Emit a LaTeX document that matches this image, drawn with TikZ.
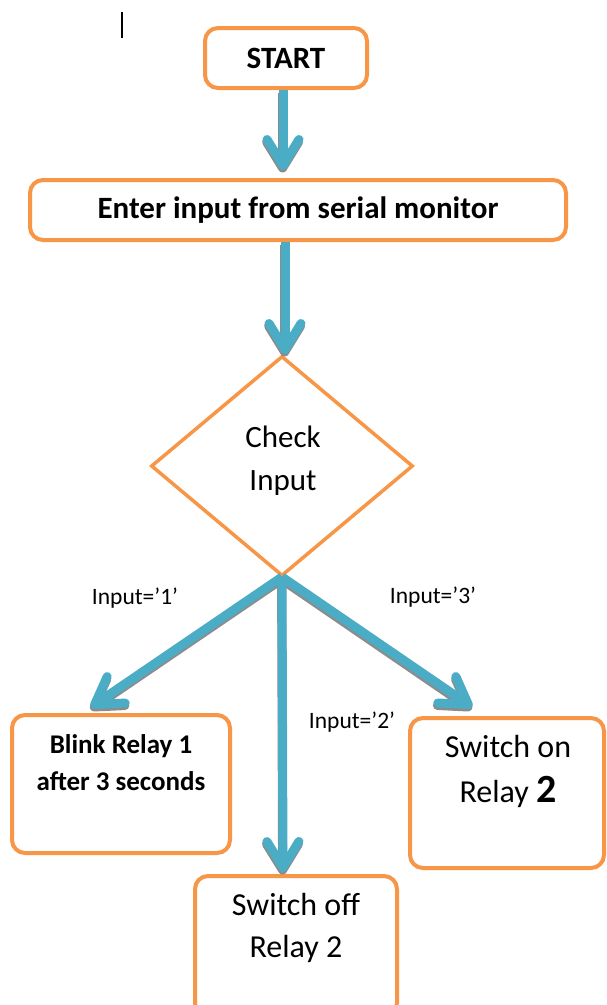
\documentclass[tikz,border=0pt]{standalone}
\usepackage{fontspec}
\setmainfont{Carlito}
\usetikzlibrary{arrows.meta,shapes.geometric}
\definecolor{boxorange}{HTML}{F79646}
\definecolor{flowblue}{HTML}{4BACC6}
\definecolor{shadowgray}{HTML}{8C8C8C}

\tikzset{
  flowbox/.style={draw=boxorange, line width=4pt, rounded corners=13pt, fill=white, inner sep=0pt},
  decision/.style={draw=boxorange, line width=3.5pt, diamond, aspect=1.19, inner sep=0pt, fill=white},
  boxtext/.style={align=center, inner sep=0pt},
  condlabel/.style={inner sep=0pt, font=\fontsize{23.5}{28}\selectfont},
  flowtip/.style={-{Straight Barb[length=26pt, width=32pt, round]}},
  flowline/.style={flowtip, draw=flowblue, line width=9pt},
  flowshadow/.style={flowtip, draw=shadowgray, line width=9pt, transform canvas={shift={(-0.4pt,-2.5pt)}}},
}

\begin{document}
\begin{tikzpicture}[x=1pt, y=-1pt]
  \useasboundingbox (0,0) rectangle (606,1005);

  % text cursor mark at the top left
  \draw[line width=1.8pt] (122,12) coordinate (cursA) -- (122,38) coordinate (cursB);

  % boxes
  \node[flowbox, minimum width=162pt, minimum height=60pt,
        font=\fontsize{31}{36}\bfseries] (start) at (286,58) {START};
  \node[flowbox, minimum width=536pt, minimum height=60pt,
        font=\fontsize{31}{36}\bfseries] (enter) at (298,210) {Enter input from serial monitor};
  \node[decision, minimum width=262pt, minimum height=220pt] (check) at (282,466) {};
  \node[boxtext, font=\fontsize{31}{43}\selectfont] (checktxt) at (283,461) {Check\\Input};

  \node[flowbox, minimum width=218pt, minimum height=138pt] (blink) at (121,784) {};
  \node[boxtext, font=\fontsize{27}{37}\bfseries] (blinktxt) at (121,763) {Blink Relay 1\\after 3 seconds};

  \node[flowbox, minimum width=194pt, minimum height=150pt] (swon) at (507,793) {};
  \node[boxtext, font=\fontsize{32}{45}\selectfont] (swontxt) at (508,771)
        {Switch on\\Relay {\fontsize{40}{45}\selectfont\bfseries 2}};

  \node[flowbox, minimum width=202pt, minimum height=140pt] (swoff) at (296,946) {};
  \node[boxtext, font=\fontsize{32}{42}\selectfont] (swofftxt) at (296,928) {Switch off\\Relay 2};

  % arrow end points
  \coordinate (tipA) at (283,170);
  \coordinate (tipB) at (285,354);
  \coordinate (fork) at (282,577);
  \coordinate (tipL) at (91,707);
  \coordinate (tipM) at (283,872);
  \coordinate (tipR) at (472,707);

  % connectors: grey shadow first, then the blue arrow
  \draw[flowshadow] (start.south -| tipA) -- (tipA);
  \draw[flowshadow] (enter.south -| tipB) -- (tipB);
  \draw[flowshadow] (fork) -- (tipL);
  \draw[flowshadow] (fork) -- (tipR);
  \draw[flowshadow] (fork) -- (tipM);

  \draw[flowline] (start.south -| tipA) -- (tipA);
  \draw[flowline] (enter.south -| tipB) -- (tipB);
  \draw[flowline] (fork) -- (tipL);
  \draw[flowline] (fork) -- (tipR);
  \draw[flowline] (fork) -- (tipM);

  % branch conditions
  \node[condlabel] (c1) at (135,598) {Input=’1’};
  \node[condlabel] (c3) at (433,597) {Input=’3’};
  \node[condlabel] (c2) at (352,722) {Input=’2’};
\end{tikzpicture}
\end{document}
